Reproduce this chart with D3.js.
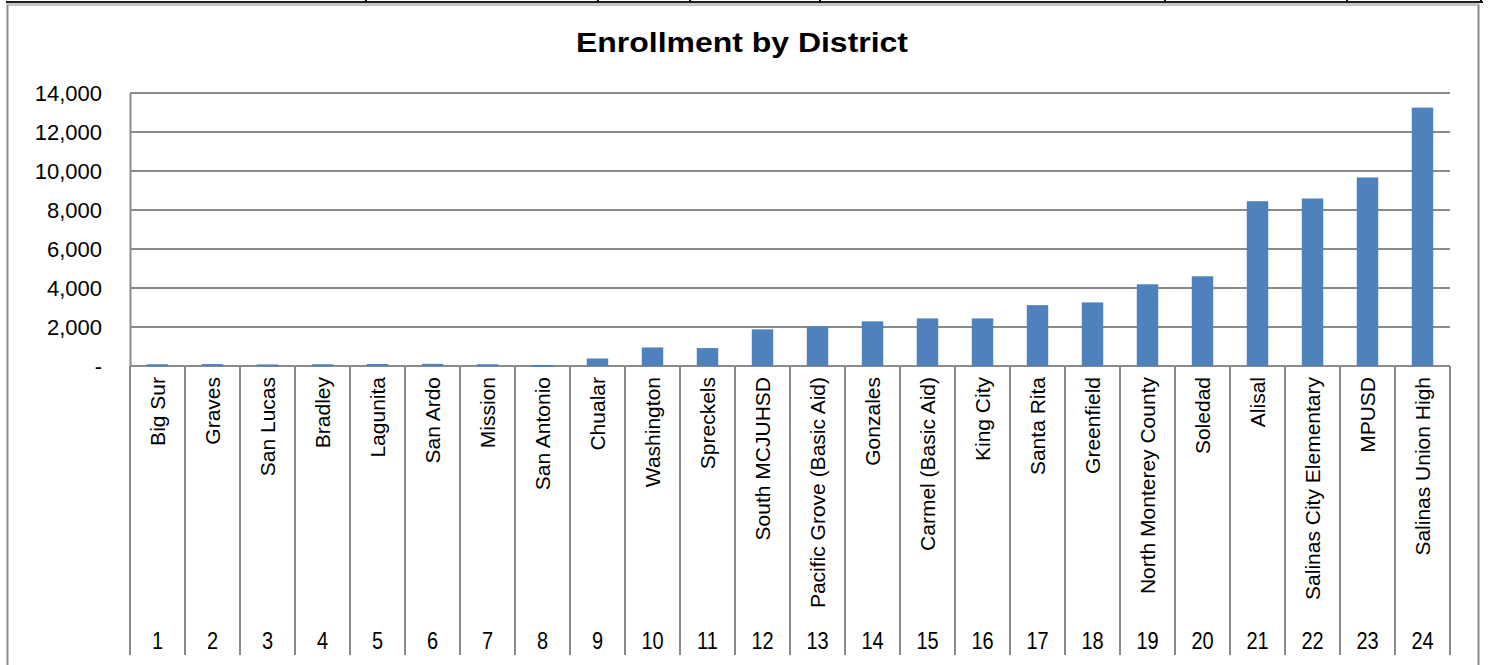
<!DOCTYPE html>
<html>
<head>
<meta charset="utf-8">
<script src="https://cdn.jsdelivr.net/npm/d3@7"></script>
<style>
  body { margin: 0; background: #fff; }
  svg { display: block; font-family: "Liberation Sans", Arial, sans-serif; }
</style>
</head>
<body>
<div id="chart"></div>
<script>
var width = 1488
var height = 665

// district names, left to right
var districts = ["Big Sur", "Graves", "San Lucas", "Bradley", "Lagunita", "San Ardo",
  "Mission", "San Antonio", "Chualar", "Washington", "Spreckels", "South MCJUHSD",
  "Pacific Grove (Basic Aid)", "Gonzales", "Carmel (Basic Aid)", "King City",
  "Santa Rita", "Greenfield", "North Monterey County", "Soledad", "Alisal",
  "Salinas City Elementary", "MPUSD", "Salinas Union High"]
// row numbers under the names
var rowNums = [1, 2, 3, 4, 5, 6, 7, 8, 9, 10, 11, 12, 13, 14, 15, 16, 17, 18, 19, 20, 21, 22, 23, 24]
// enrollment
var enrollment = [90, 100, 80, 90, 100, 110, 90, 50, 385, 950, 920, 1880,
  2030, 2290, 2440, 2440, 3120, 3260, 4190, 4600, 8450, 8590, 9670, 13250]
var yTicks = [0, 2000, 4000, 6000, 8000, 10000, 12000, 14000]

var data = districts.map(function(d, i) {
  return {name: d, num: rowNums[i], value: enrollment[i]}
})

// plot box (note: "top" is reserved on window, so use plot*)
var plotLeft = 130, plotRight = 1450, plotTop = 93, plotBase = 366

var x = d3.scaleBand()
  .domain(districts)
  .range([plotLeft, plotRight])
  .paddingInner(0.61)
  .paddingOuter(0.305)
var band = (plotRight - plotLeft) / districts.length

var y = d3.scaleLinear()
  .domain([0, 14000])
  .range([plotBase, plotTop])

var svg = d3.select("#chart").append("svg")
  .attr("width", width)
  .attr("height", height)

// spreadsheet line above the chart
svg.append("line")
  .attr("x1", 6).attr("x2", 1483).attr("y1", 2).attr("y2", 2)
  .attr("stroke", "#222").attr("stroke-width", 2)
var cellEdges = [366, 598, 690, 820, 1165, 1347, 1481]
svg.selectAll(".cell")
  .data(cellEdges)
  .enter()
  .append("line")
  .attr("x1", function(d) { return d }).attr("x2", function(d) { return d })
  .attr("y1", 0).attr("y2", 3)
  .attr("stroke", "#111").attr("stroke-width", 2)

// chart frame
svg.append("rect")
  .attr("x", 7.5).attr("y", 4.5)
  .attr("width", 1471).attr("height", 700)
  .attr("fill", "none")
  .attr("stroke", "#8c8c8c").attr("stroke-width", 2)
svg.append("line")
  .attr("x1", 7).attr("x2", 1479).attr("y1", 4).attr("y2", 4)
  .attr("stroke", "#c8c8c8").attr("stroke-width", 2)

// title
svg.append("text")
  .attr("x", 742)
  .attr("y", 52)
  .attr("text-anchor", "middle")
  .attr("textLength", 332)
  .attr("lengthAdjust", "spacingAndGlyphs")
  .style("font-size", "28px")
  .style("font-weight", "bold")
  .text("Enrollment by District")

// gridlines
svg.selectAll(".grid")
  .data(yTicks)
  .enter()
  .append("line")
  .attr("x1", plotLeft).attr("x2", plotRight)
  .attr("y1", function(d) { return y(d) })
  .attr("y2", function(d) { return y(d) })
  .attr("stroke", "#8a8a8a").attr("stroke-width", 2)

// y axis
var yAxis = d3.axisLeft(y)
  .tickValues(yTicks)
  .tickSize(0)
  .tickPadding(28)
  .tickFormat(function(d) { return d === 0 ? "-" : d3.format(",")(d) })
var gy = svg.append("g")
  .attr("transform", "translate(" + plotLeft + ",0)")
  .call(yAxis)
gy.select(".domain").attr("stroke", "#8a8a8a").attr("stroke-width", 2)
gy.selectAll("text")
  .style("font-size", "22px")
  .style("font-family", "Liberation Sans, Arial, sans-serif")
  .attr("fill", "#000")
  .attr("dy", "0.35em")

// bars
svg.selectAll(".bar")
  .data(data)
  .enter()
  .append("rect")
  .attr("class", "bar")
  .attr("x", function(d) { return x(d.name) })
  .attr("width", x.bandwidth())
  .attr("y", function(d) { return y(d.value) })
  .attr("height", function(d) { return Math.max(2, plotBase - y(d.value)) })
  .attr("fill", "#4f81bd")

// category separators
var edges = d3.range(districts.length + 1).map(function(i) { return plotLeft + i * band })
svg.selectAll(".sep")
  .data(edges)
  .enter()
  .append("line")
  .attr("x1", function(d) { return d }).attr("x2", function(d) { return d })
  .attr("y1", plotBase).attr("y2", 655)
  .attr("stroke", "#8a8a8a").attr("stroke-width", 2)

// names, rotated
svg.selectAll(".name")
  .data(data)
  .enter()
  .append("text")
  .attr("transform", function(d) {
    return "translate(" + (x(d.name) + x.bandwidth() / 2 + 7.5) + ",377) rotate(-90)"
  })
  .attr("text-anchor", "end")
  .style("font-size", "21px")
  .text(function(d) { return d.name })

// numbers (slightly tall, like the original)
svg.selectAll(".num")
  .data(data)
  .enter()
  .append("text")
  .attr("transform", function(d) {
    return "translate(" + (x(d.name) + x.bandwidth() / 2) + ",649) scale(1,1.15)"
  })
  .attr("text-anchor", "middle")
  .style("font-size", "20px")
  .text(function(d) { return d.num })
</script>
</body>
</html>
